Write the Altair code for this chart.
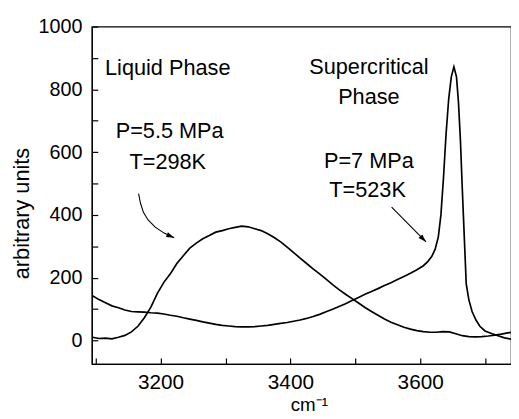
import altair as alt
import pandas as pd

# ---- data ----
liquid_w = [3095, 3105, 3115, 3125, 3135, 3145, 3155, 3165, 3175, 3185, 3195, 3205, 3215,
            3225, 3235, 3245, 3255, 3265, 3275, 3285, 3295, 3305, 3315, 3325, 3335, 3345,
            3355, 3365, 3375, 3385, 3395, 3405, 3415, 3425, 3435, 3445, 3455, 3465, 3475,
            3485, 3495, 3505, 3515, 3525, 3535, 3545, 3555, 3565, 3575, 3585, 3595, 3605,
            3615, 3625, 3635, 3645, 3655, 3665, 3675, 3685, 3695, 3705, 3715, 3725, 3735, 3745]
liquid_a = [10, 6, 7, 5, 10, 16, 27, 45, 72, 106, 150, 185, 212,
            245, 270, 294, 310, 324, 334, 345, 350, 356, 360, 364, 362, 356,
            350, 340, 328, 314, 297, 280, 262, 245, 228, 212, 195, 178, 162,
            147, 133, 119, 105, 92, 80, 68, 58, 50, 42, 36, 31, 28,
            26, 26, 28, 27, 21, 15, 12, 11, 12, 14, 17, 20, 24, 27]

scf_w = [3095, 3105, 3115, 3125, 3135, 3145, 3155, 3165, 3175, 3185, 3195, 3205, 3215,
         3225, 3235, 3245, 3255, 3265, 3275, 3285, 3295, 3305, 3315, 3325, 3335, 3345,
         3355, 3365, 3375, 3385, 3395, 3405, 3415, 3425, 3435, 3445, 3455, 3465, 3475,
         3485, 3495, 3505, 3515, 3525, 3535, 3545, 3555, 3565, 3575, 3585, 3595, 3605,
         3612, 3618, 3623, 3628, 3632, 3636, 3640, 3644, 3648, 3652, 3656, 3659, 3662,
         3665, 3668, 3671, 3675, 3680, 3686, 3692, 3700, 3710, 3720, 3730, 3745]
scf_a = [142, 130, 120, 110, 104, 97, 92, 91, 90, 88, 87, 84, 80,
         77, 72, 68, 64, 59, 55, 51, 48, 46, 44, 43, 43, 44,
         46, 48, 51, 54, 57, 61, 65, 70, 76, 83, 91, 99, 108,
         117, 127, 137, 147, 156, 165, 175, 184, 194, 204, 214, 225, 238,
         252, 268, 290, 330, 400, 520, 660, 770, 840, 872, 840, 760, 640,
         480, 330, 180, 130, 92, 65, 45, 30, 22, 15, 8, 2]

x_ticks = [3100, 3200, 3300, 3400, 3500, 3600, 3700]
y_ticks = [0, 100, 200, 300, 400, 500, 600, 700, 800, 900, 1000]

note_text = ["Liquid Phase", "P=5.5 MPa", "T=298K",
             "Supercritical", "Phase", "P=7 MPa", "T=523K"]
note_w = [3211, 3214, 3211, 3521, 3521, 3521, 3519]
note_a = [846, 645, 546, 849, 754, 550, 456]

arrow1_w = [3166, 3169, 3173.5, 3181, 3191.7, 3205.4, 3221]
arrow1_a = [468, 437, 408, 383, 361, 342, 327]
arrow2_w = [3556, 3609]
arrow2_a = [425, 314]

FONT = "Liberation Sans"
W, H = 425, 342
xs = alt.Scale(domain=[3094, 3740], nice=False, zero=False)
ys = alt.Scale(domain=[-75, 1000], nice=False, zero=False)

df_l = pd.DataFrame({"w": liquid_w, "a": liquid_a})
df_s = pd.DataFrame({"w": scf_w, "a": scf_a})
df_notes = pd.DataFrame({"w": note_w, "a": note_a, "t": note_text})
df_a1 = pd.DataFrame({"w": arrow1_w, "a": arrow1_a})
df_a2 = pd.DataFrame({"w": arrow2_w, "a": arrow2_a})

INWARD = alt.ExprRef(expr="-6")  # ticks drawn into the plot
ONLY_EVEN = "datum.value % 200 === 0 ? datum.label : ''"

XA = alt.Axis(values=x_ticks, format="d", labelExpr=ONLY_EVEN, ticks=True, tickSize=INWARD,
              tickColor="black", tickWidth=1.2, grid=False, domain=True,
              domainColor="black", domainWidth=1.2,
              labelFontSize=21, labelFont=FONT, labelColor="black", labelPadding=14,
              title="cm⁻¹", titleFont=FONT, titleFontSize=19, titleFontWeight="normal",
              titleColor="black", titleX=220, titleY=47, titleAlign="center",
              titleBaseline="alphabetic")
YA = alt.Axis(values=y_ticks, format="d", labelExpr=ONLY_EVEN, ticks=True, tickSize=INWARD,
              tickColor="black", tickWidth=1.2, grid=False, domain=True,
              domainColor="black", domainWidth=1.2,
              labelFontSize=20, labelFont=FONT, labelColor="black", labelPadding=16,
              title="arbitrary units", titleFont=FONT, titleFontSize=22,
              titleFontWeight="normal", titleColor="black", titleX=-64, titleY=189,
              titleAngle=270, titleAlign="center", titleBaseline="alphabetic")


def X(f):
    return alt.X(f, scale=xs, axis=XA)


def Y(f):
    return alt.Y(f, scale=ys, axis=YA)


liquid = alt.Chart(df_l).mark_line(color="black", strokeWidth=1.7, clip=True).encode(
    x=X("w:Q"), y=Y("a:Q"))
scf = alt.Chart(df_s).mark_line(color="black", strokeWidth=1.7, clip=True).encode(
    x=X("w:Q"), y=Y("a:Q"))

notes = alt.Chart(df_notes).mark_text(font=FONT, fontSize=22, color="black",
                                      align="center", baseline="alphabetic").encode(
    x=X("w:Q"), y=Y("a:Q"), text="t:N")

arrow1 = alt.Chart(df_a1).mark_line(color="black", strokeWidth=1.1).encode(
    x=X("w:Q"), y=Y("a:Q"))
arrow2 = alt.Chart(df_a2).mark_line(color="black", strokeWidth=1.1).encode(
    x=X("w:Q"), y=Y("a:Q"))

HEAD = "M0,0L-0.75,2.3L0.75,2.3Z"
head1 = alt.Chart(df_a1.tail(1)).mark_point(shape=HEAD, filled=True, color="black",
                                            opacity=1, size=49, angle=113).encode(
    x=X("w:Q"), y=Y("a:Q"))
head2 = alt.Chart(df_a2.tail(1)).mark_point(shape=HEAD, filled=True, color="black",
                                            opacity=1, size=49, angle=135).encode(
    x=X("w:Q"), y=Y("a:Q"))

chart = alt.layer(liquid, scf, notes, arrow1, arrow2, head1, head2).properties(
    width=W, height=H,
    autosize=alt.AutoSizeParams(type="none"),
    padding={"left": 85, "top": 16, "right": 0, "bottom": 56},
    background="white",
).configure_view(stroke="black", strokeWidth=1.2)

chart.save("out.html", embed_options={"renderer": "svg", "actions": False})
